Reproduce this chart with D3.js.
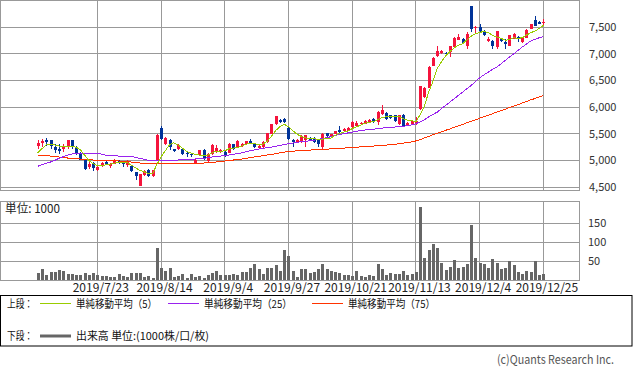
<!DOCTYPE html>
<html>
<head>
<meta charset="utf-8">
<script src="https://cdn.jsdelivr.net/npm/d3@7"></script>
<style>
  body { margin: 0; background: #fff; }
  svg { display: block; font-family: "Noto Sans CJK JP", "Noto Sans", sans-serif; }
</style>
</head>
<body>
<svg id="chart" width="633" height="372"></svg>
<script>
// trading days shown on the chart (2019/7/2 .. 2019/12/25)
const dates = [
  "2019/7/2","2019/7/3","2019/7/4","2019/7/5","2019/7/8","2019/7/9","2019/7/10","2019/7/11","2019/7/12",
  "2019/7/16","2019/7/17","2019/7/18","2019/7/19","2019/7/22","2019/7/23","2019/7/24","2019/7/25","2019/7/26",
  "2019/7/29","2019/7/30","2019/7/31","2019/8/1","2019/8/2","2019/8/5","2019/8/6","2019/8/7","2019/8/8","2019/8/9",
  "2019/8/13","2019/8/14","2019/8/15","2019/8/16","2019/8/19","2019/8/20","2019/8/21","2019/8/22","2019/8/23",
  "2019/8/26","2019/8/27","2019/8/28","2019/8/29","2019/8/30","2019/9/2","2019/9/3","2019/9/4","2019/9/5","2019/9/6",
  "2019/9/9","2019/9/10","2019/9/11","2019/9/12","2019/9/13","2019/9/17","2019/9/18","2019/9/19","2019/9/20",
  "2019/9/24","2019/9/25","2019/9/26","2019/9/27","2019/9/30","2019/10/1","2019/10/2","2019/10/3","2019/10/4",
  "2019/10/7","2019/10/8","2019/10/9","2019/10/10","2019/10/11","2019/10/15","2019/10/16","2019/10/17","2019/10/18",
  "2019/10/21","2019/10/23","2019/10/24","2019/10/25","2019/10/28","2019/10/29","2019/10/30","2019/10/31","2019/11/1",
  "2019/11/5","2019/11/6","2019/11/7","2019/11/8","2019/11/11","2019/11/12","2019/11/13","2019/11/14","2019/11/15",
  "2019/11/18","2019/11/19","2019/11/20","2019/11/21","2019/11/22","2019/11/25","2019/11/26","2019/11/27","2019/11/28",
  "2019/11/29","2019/12/2","2019/12/3","2019/12/4","2019/12/5","2019/12/6","2019/12/9","2019/12/10","2019/12/11",
  "2019/12/12","2019/12/13","2019/12/16","2019/12/17","2019/12/18","2019/12/19","2019/12/20","2019/12/23","2019/12/24",
  "2019/12/25"
];

const open = [
  5270,5325,5375,5375,5250,5210,5205,5250,5390,5260,5140,5010,4875,4955,4810,4895,4970,4890,4940,4990,
  4955,4905,4890,4780,4520,4720,4825,4705,4990,5605,5300,5390,5205,5205,5220,5140,5125,4940,5095,5190,
  4990,5110,5155,5155,5155,5145,5300,5250,5270,5310,5360,5310,5240,5250,5345,5500,5675,5750,5780,5605,
  5375,5330,5345,5390,5425,5425,5375,5250,5510,5450,5500,5575,5545,5560,5625,5640,5675,5690,5720,5780,
  5720,5875,5890,5845,5845,5690,5855,5655,5690,5680,5970,6190,6360,6780,6950,7020,7020,7030,7125,7260,
  7280,7155,7890,7490,7510,7425,7240,7240,7125,7280,7220,7155,7280,7310,7220,7300,7470,7640,7595,7575
];
const high = [
  5390,5405,5420,5380,5300,5310,5300,5390,5390,5270,5150,5020,5000,4970,4895,4960,5000,4950,5020,5010,
  4960,5000,4900,4790,4750,4810,4840,4820,5490,5640,5440,5400,5220,5300,5230,5155,5140,5020,5200,5210,
  5140,5300,5280,5210,5170,5320,5310,5380,5320,5370,5405,5320,5280,5360,5520,5690,5830,5770,5790,5620,
  5405,5400,5470,5480,5440,5430,5380,5510,5520,5500,5560,5640,5600,5630,5730,5730,5720,5750,5770,5790,
  5920,6030,5900,5860,5860,5860,5870,5720,5750,5810,6400,6380,6780,6940,7155,7080,7040,7155,7310,7375,
  7300,7405,7895,7530,7550,7440,7310,7250,7430,7290,7280,7360,7390,7325,7310,7460,7560,7700,7610,7655
];
const low = [
  5220,5250,5275,5220,5140,5125,5155,5220,5220,5095,5000,4820,4830,4800,4800,4880,4905,4860,4930,4925,
  4875,4875,4780,4625,4515,4700,4690,4690,4980,5380,5290,5190,5160,5190,5100,5060,5060,4930,5080,5000,
  4960,5100,5140,5140,5060,5130,5200,5240,5260,5300,5300,5240,5230,5240,5330,5490,5660,5700,5700,5380,
  5250,5320,5330,5250,5380,5330,5250,5220,5440,5440,5490,5520,5530,5550,5610,5620,5660,5680,5710,5710,
  5660,5860,5760,5780,5720,5670,5630,5640,5680,5670,5940,6170,6350,6770,6940,7000,6970,6940,7110,7250,
  7180,7095,7400,7375,7410,7340,7220,7095,7095,7220,7095,7140,7270,7220,7210,7290,7460,7520,7550,7530
];
const close = [
  5325,5360,5350,5270,5200,5180,5270,5375,5250,5145,5015,4830,4940,4855,4875,4950,4925,4940,5010,4955,
  4935,4970,4800,4705,4740,4800,4705,4810,5475,5405,5425,5250,5175,5280,5125,5110,5095,5010,5190,5020,
  5125,5280,5230,5190,5080,5310,5220,5360,5310,5360,5310,5250,5270,5345,5510,5675,5825,5715,5720,5395,
  5345,5390,5455,5470,5390,5345,5300,5500,5450,5490,5545,5530,5580,5610,5720,5710,5700,5740,5760,5720,
  5905,5950,5780,5800,5740,5845,5640,5700,5740,5740,6390,6360,6760,6925,7060,7060,6990,7140,7295,7310,
  7200,7375,7470,7510,7425,7360,7270,7155,7420,7240,7190,7345,7375,7300,7300,7450,7550,7530,7560,7595
];

// moving averages as drawn on the chart
const ma5 = [
  5140,5220,5290,5295,5290,5270,5260,5265,5262,5248,5200,5100,5000,4938,4898,4898,4917,4925,4948,4962,
  4955,4958,4912,4858,4815,4786,4750,4745,4920,5060,5180,5290,5330,5290,5230,5170,5140,5115,5100,5090,
  5095,5140,5170,5172,5178,5218,5230,5240,5265,5305,5312,5310,5300,5305,5360,5450,5560,5635,5680,5630,
  5560,5490,5450,5420,5415,5410,5390,5400,5410,5420,5470,5503,5530,5551,5597,5630,5660,5696,5715,5726,
  5765,5805,5818,5831,5830,5823,5780,5755,5745,5720,5860,6020,6280,6480,6720,6850,6960,7040,7110,7160,
  7190,7260,7330,7375,7400,7420,7400,7345,7320,7290,7255,7265,7300,7290,7300,7350,7395,7425,7475,7535
];
const ma25 = [
  4888,4919,4944,4969,5000,5038,5069,5100,5119,5138,5138,5138,5131,5131,5125,5119,5094,5088,5088,5081,
  5081,5081,5075,5056,5038,5019,5000,4988,4988,4988,4994,4994,5000,5006,5013,5013,5019,5025,5031,5038,
  5050,5063,5069,5081,5088,5100,5113,5125,5140,5160,5180,5198,5213,5225,5238,5250,5263,5281,5294,5313,
  5325,5338,5350,5356,5368,5380,5392,5410,5425,5445,5470,5485,5500,5515,5530,5545,5560,5570,5575,5585,
  5595,5605,5615,5620,5625,5630,5640,5650,5665,5690,5720,5765,5815,5860,5905,5970,6030,6095,6155,6220,
  6280,6345,6405,6480,6550,6605,6655,6705,6750,6810,6875,6940,7000,7060,7125,7180,7240,7270,7300,7325
];
const ma75 = [
  5094,5088,5088,5081,5075,5063,5056,5044,5038,5031,5025,5019,5013,5006,5000,5000,4994,4994,4988,4988,
  4981,4975,4969,4963,4950,4944,4938,4938,4938,4938,4938,4938,4938,4938,4938,4938,4938,4938,4944,4950,
  4956,4963,4969,4981,4988,4994,5006,5019,5025,5038,5050,5063,5075,5088,5100,5113,5125,5140,5155,5165,
  5172,5178,5183,5188,5193,5198,5203,5207,5211,5215,5220,5225,5230,5236,5242,5248,5253,5258,5263,5268,
  5273,5280,5287,5294,5302,5312,5322,5334,5347,5365,5390,5420,5450,5480,5505,5535,5565,5590,5620,5650,
  5675,5705,5735,5760,5790,5820,5845,5875,5905,5935,5960,5990,6020,6045,6075,6105,6135,6160,6190,6220
];

// volume, unit 1000
const volume = [
  18,30,14,21,21,26,25,16,16,12,12,18,14,18,12,11,10,8,9,15,
  11,9,19,18,18,9,11,5,84,32,25,33,9,11,16,5,16,9,11,5,
  12,19,25,14,14,14,16,14,21,21,32,42,30,16,32,32,39,25,80,63,
  25,8,30,30,18,21,28,42,30,25,21,18,14,14,11,25,11,8,13,11,
  42,30,14,18,16,16,25,14,16,21,192,58,79,95,84,45,27,34,53,32,
  34,42,146,58,45,42,32,55,45,30,32,49,40,21,16,25,21,49,14,16
];

const tickDates = ["2019/7/23","2019/8/14","2019/9/4","2019/9/27","2019/10/21","2019/11/13","2019/12/4","2019/12/25"];
const priceTicks = [4500, 5000, 5500, 6000, 6500, 7000, 7500];
const volTicks = [50, 100, 150];

const COLOR_UP = "#f5143c";
const COLOR_DOWN = "#003399";
const GRID = "#999";
const PANEL_RIGHT = 579.5;

const svg = d3.select("#chart");
const snap = v => Math.round(v - 0.5) + 0.5;

const x = d3.scaleLinear().domain([0, dates.length - 1]).range([37.8, 543.4]);
const y = d3.scaleLinear().domain([4500, 8000]).range([187, 0.5]);
const yv = d3.scaleLinear().domain([0, 150]).range([280, 223.3]);

const tickIdx = tickDates.map(d => dates.indexOf(d));

// ---- upper panel grid ----
const upper = svg.append("g");
upper.selectAll("line.h").data(priceTicks).join("line")
  .attr("class", "h")
  .attr("x1", 0.5).attr("x2", PANEL_RIGHT)
  .attr("y1", d => snap(y(d))).attr("y2", d => snap(y(d)))
  .attr("stroke", GRID);
upper.selectAll("line.v").data(tickIdx).join("line")
  .attr("class", "v")
  .attr("x1", d => snap(x(d))).attr("x2", d => snap(x(d)))
  .attr("y1", 0.5).attr("y2", 190.5)
  .attr("stroke", GRID);
upper.append("rect")
  .attr("x", 0.5).attr("y", 0.5).attr("width", PANEL_RIGHT - 0.5).attr("height", 190)
  .attr("fill", "none").attr("stroke", GRID);

// price axis on the right
svg.append("g")
  .attr("transform", "translate(589,0)")
  .call(d3.axisRight(y).tickValues(priceTicks).tickSize(0).tickPadding(0).tickFormat(d3.format(",")))
  .call(g => g.select(".domain").remove())
  .call(g => g.selectAll("text").attr("fill", "#333").attr("font-size", 11)
    .attr("font-family", "Noto Sans CJK JP").attr("text-anchor", "start"));

// ---- candles ----
const candles = svg.append("g").attr("shape-rendering", "crispEdges");
const idx = d3.range(dates.length);
const isUp = i => close[i] >= open[i];
candles.selectAll("rect.wick").data(idx).join("rect")
  .attr("class", "wick")
  .attr("x", i => Math.round(x(i)))
  .attr("y", i => Math.round(y(high[i])))
  .attr("width", 1)
  .attr("height", i => Math.max(1, Math.round(y(low[i])) - Math.round(y(high[i]))))
  .attr("fill", i => isUp(i) ? COLOR_UP : COLOR_DOWN);
candles.selectAll("rect.body").data(idx).join("rect")
  .attr("class", "body")
  .attr("x", i => Math.round(x(i)) - 1)
  .attr("y", i => Math.round(y(Math.max(open[i], close[i]))))
  .attr("width", 3)
  .attr("height", i => Math.max(1, Math.round(y(Math.min(open[i], close[i]))) - Math.round(y(Math.max(open[i], close[i])))))
  .attr("fill", i => isUp(i) ? COLOR_UP : COLOR_DOWN);

// ---- moving averages ----
const maLine = d3.line().x((d, i) => x(i)).y(d => y(d));
const maSeries = [
  { values: ma75, color: "#ff3300" },
  { values: ma25, color: "#9922ee" },
  { values: ma5, color: "#99cc00" }
];
svg.append("g").selectAll("path").data(maSeries).join("path")
  .attr("d", s => maLine(s.values))
  .attr("fill", "none")
  .attr("stroke", s => s.color)
  .attr("stroke-width", 1)
  .attr("shape-rendering", "crispEdges");

// ---- volume panel ----
const vol = svg.append("g");
vol.selectAll("line.h").data(volTicks).join("line")
  .attr("class", "h")
  .attr("x1", 0.5).attr("x2", PANEL_RIGHT)
  .attr("y1", d => snap(yv(d))).attr("y2", d => snap(yv(d)))
  .attr("stroke", GRID);
vol.selectAll("line.v").data(tickIdx).join("line")
  .attr("class", "v")
  .attr("x1", d => snap(x(d))).attr("x2", d => snap(x(d)))
  .attr("y1", 201.5).attr("y2", 280.5)
  .attr("stroke", GRID);
vol.append("rect")
  .attr("x", 0.5).attr("y", 201.5).attr("width", PANEL_RIGHT - 0.5).attr("height", 79)
  .attr("fill", "none").attr("stroke", GRID);
vol.append("g").attr("shape-rendering", "crispEdges")
  .selectAll("rect").data(idx).join("rect")
  .attr("x", i => Math.round(x(i)) - 1)
  .attr("y", i => Math.round(yv(volume[i])))
  .attr("width", 3)
  .attr("height", i => 280 - Math.round(yv(volume[i])))
  .attr("fill", "#666");
vol.append("text")
  .attr("x", 5).attr("y", 213)
  .attr("font-size", 12).attr("fill", "#222")
  .attr("textLength", 55).attr("lengthAdjust", "spacingAndGlyphs")
  .text("単位: 1000");

svg.append("g")
  .attr("transform", "translate(588,0)")
  .call(d3.axisRight(yv).tickValues(volTicks).tickSize(0).tickPadding(0))
  .call(g => g.select(".domain").remove())
  .call(g => g.selectAll("text").attr("fill", "#333").attr("font-size", 11)
    .attr("font-family", "Noto Sans CJK JP").attr("text-anchor", "start"));

// date axis, labels spread like the original's wide digits
svg.append("g")
  .attr("transform", "translate(3,283)")
  .call(d3.axisBottom(x).tickValues(tickIdx).tickSize(0).tickPadding(0).tickFormat(i => dates[i]))
  .call(g => g.select(".domain").remove())
  .call(g => g.selectAll("text").attr("fill", "#222").attr("font-size", 12)
    .attr("font-family", "Noto Sans CJK JP")
    .attr("textLength", i => dates[i].length * 6.25)
    .attr("lengthAdjust", "spacing"));

// ---- legend ----
const legend = svg.append("g");
legend.append("rect")
  .attr("x", 0.5).attr("y", 295.5).attr("width", 631.5).attr("height", 50.5)
  .attr("fill", "none").attr("stroke", "#000");

const legendItems = [
  { label: "単純移動平均（5）", color: "#99cc00", x1: 40, x2: 71, tx: 76, len: 81 },
  { label: "単純移動平均（25）", color: "#9922ee", x1: 168, x2: 199, tx: 204, len: 88 },
  { label: "単純移動平均（75）", color: "#ff3300", x1: 312, x2: 343, tx: 348, len: 87 }
];
legend.selectAll("line.ma").data(legendItems).join("line")
  .attr("class", "ma")
  .attr("x1", d => d.x1).attr("x2", d => d.x2)
  .attr("y1", 303.5).attr("y2", 303.5)
  .attr("stroke", d => d.color);
legend.selectAll("text.ma").data(legendItems).join("text")
  .attr("class", "ma")
  .attr("x", d => d.tx).attr("y", 308)
  .attr("font-size", 11).attr("fill", "#111")
  .attr("textLength", d => d.len).attr("lengthAdjust", "spacingAndGlyphs")
  .text(d => d.label);

legend.append("text")
  .attr("x", 7).attr("y", 308).attr("font-size", 11).attr("fill", "#111")
  .attr("textLength", 26).attr("lengthAdjust", "spacingAndGlyphs")
  .text("上段：");
legend.append("text")
  .attr("x", 7).attr("y", 340).attr("font-size", 11).attr("fill", "#111")
  .attr("textLength", 26).attr("lengthAdjust", "spacingAndGlyphs")
  .text("下段：");
legend.append("line")
  .attr("x1", 40).attr("x2", 71).attr("y1", 336).attr("y2", 336)
  .attr("stroke", "#666").attr("stroke-width", 3);
legend.append("text")
  .attr("x", 76).attr("y", 340).attr("font-size", 11).attr("fill", "#111")
  .attr("textLength", 133).attr("lengthAdjust", "spacingAndGlyphs")
  .text("出来高 単位:(1000株/口/枚)");

// copyright
svg.append("text")
  .attr("x", 497).attr("y", 364)
  .attr("font-size", 12).attr("fill", "#555")
  .attr("textLength", 117).attr("lengthAdjust", "spacingAndGlyphs")
  .text("(c)Quants Research Inc.");
</script>
</body>
</html>
